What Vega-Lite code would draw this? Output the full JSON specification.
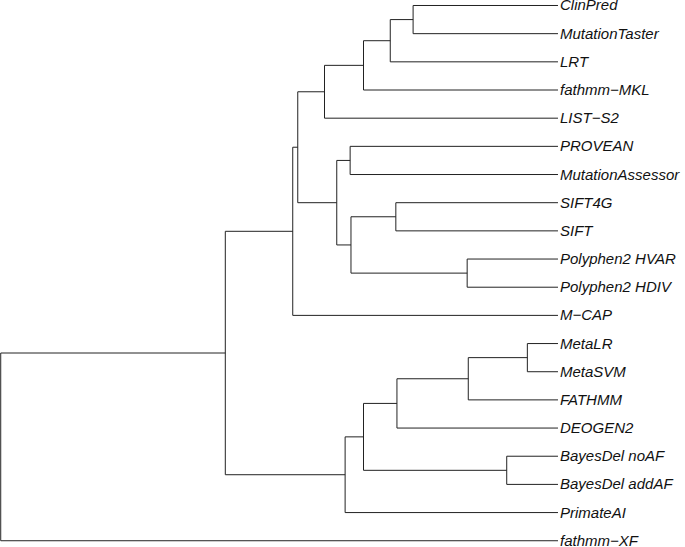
{
  "$schema": "https://vega.github.io/schema/vega-lite/v6.json",
  "width": 685,
  "height": 547,
  "autosize": "none",
  "padding": 0,
  "background": "white",
  "config": {"view": {"stroke": null}},
  "datasets": {
    "segments": [
      {"h": 0.260, "h2": 0.260, "y": 0, "y2": 1},
      {"h": 0.260, "h2": 0, "y": 0, "y2": 0},
      {"h": 0.260, "h2": 0, "y": 1, "y2": 1},
      {"h": 0.301, "h2": 0.301, "y": 0.5, "y2": 2},
      {"h": 0.301, "h2": 0.260, "y": 0.5, "y2": 0.5},
      {"h": 0.301, "h2": 0, "y": 2, "y2": 2},
      {"h": 0.349, "h2": 0.349, "y": 1.25, "y2": 3},
      {"h": 0.349, "h2": 0.301, "y": 1.25, "y2": 1.25},
      {"h": 0.349, "h2": 0, "y": 3, "y2": 3},
      {"h": 0.419, "h2": 0.419, "y": 2.125, "y2": 4},
      {"h": 0.419, "h2": 0.349, "y": 2.125, "y2": 2.125},
      {"h": 0.419, "h2": 0, "y": 4, "y2": 4},
      {"h": 0.373, "h2": 0.373, "y": 5, "y2": 6},
      {"h": 0.373, "h2": 0, "y": 5, "y2": 5},
      {"h": 0.373, "h2": 0, "y": 6, "y2": 6},
      {"h": 0.291, "h2": 0.291, "y": 7, "y2": 8},
      {"h": 0.291, "h2": 0, "y": 7, "y2": 7},
      {"h": 0.291, "h2": 0, "y": 8, "y2": 8},
      {"h": 0.163, "h2": 0.163, "y": 9, "y2": 10},
      {"h": 0.163, "h2": 0, "y": 9, "y2": 9},
      {"h": 0.163, "h2": 0, "y": 10, "y2": 10},
      {"h": 0.3715, "h2": 0.3715, "y": 7.5, "y2": 9.5},
      {"h": 0.3715, "h2": 0.291, "y": 7.5, "y2": 7.5},
      {"h": 0.3715, "h2": 0.163, "y": 9.5, "y2": 9.5},
      {"h": 0.397, "h2": 0.397, "y": 5.5, "y2": 8.5},
      {"h": 0.397, "h2": 0.373, "y": 5.5, "y2": 5.5},
      {"h": 0.397, "h2": 0.3715, "y": 8.5, "y2": 8.5},
      {"h": 0.467, "h2": 0.467, "y": 3.0625, "y2": 7},
      {"h": 0.467, "h2": 0.419, "y": 3.0625, "y2": 3.0625},
      {"h": 0.467, "h2": 0.397, "y": 7, "y2": 7},
      {"h": 0.476, "h2": 0.476, "y": 5.03125, "y2": 11},
      {"h": 0.476, "h2": 0.467, "y": 5.03125, "y2": 5.03125},
      {"h": 0.476, "h2": 0, "y": 11, "y2": 11},
      {"h": 0.055, "h2": 0.055, "y": 12, "y2": 13},
      {"h": 0.055, "h2": 0, "y": 12, "y2": 12},
      {"h": 0.055, "h2": 0, "y": 13, "y2": 13},
      {"h": 0.161, "h2": 0.161, "y": 12.5, "y2": 14},
      {"h": 0.161, "h2": 0.055, "y": 12.5, "y2": 12.5},
      {"h": 0.161, "h2": 0, "y": 14, "y2": 14},
      {"h": 0.289, "h2": 0.289, "y": 13.25, "y2": 15},
      {"h": 0.289, "h2": 0.161, "y": 13.25, "y2": 13.25},
      {"h": 0.289, "h2": 0, "y": 15, "y2": 15},
      {"h": 0.092, "h2": 0.092, "y": 16, "y2": 17},
      {"h": 0.092, "h2": 0, "y": 16, "y2": 16},
      {"h": 0.092, "h2": 0, "y": 17, "y2": 17},
      {"h": 0.349, "h2": 0.349, "y": 14.125, "y2": 16.5},
      {"h": 0.349, "h2": 0.289, "y": 14.125, "y2": 14.125},
      {"h": 0.349, "h2": 0.092, "y": 16.5, "y2": 16.5},
      {"h": 0.382, "h2": 0.382, "y": 15.3125, "y2": 18},
      {"h": 0.382, "h2": 0.349, "y": 15.3125, "y2": 15.3125},
      {"h": 0.382, "h2": 0, "y": 18, "y2": 18},
      {"h": 0.597, "h2": 0.597, "y": 8.015625, "y2": 16.65625},
      {"h": 0.597, "h2": 0.476, "y": 8.015625, "y2": 8.015625},
      {"h": 0.597, "h2": 0.382, "y": 16.65625, "y2": 16.65625},
      {"h": 1.0, "h2": 1.0, "y": 12.3359, "y2": 19},
      {"h": 1.0, "h2": 0.597, "y": 12.3359, "y2": 12.3359},
      {"h": 1.0, "h2": 0, "y": 19, "y2": 19}
    ],
    "leaves": [
      {"label": "ClinPred", "i": 0, "h": 0},
      {"label": "MutationTaster", "i": 1, "h": 0},
      {"label": "LRT", "i": 2, "h": 0},
      {"label": "fathmm−MKL", "i": 3, "h": 0},
      {"label": "LIST−S2", "i": 4, "h": 0},
      {"label": "PROVEAN", "i": 5, "h": 0},
      {"label": "MutationAssessor", "i": 6, "h": 0},
      {"label": "SIFT4G", "i": 7, "h": 0},
      {"label": "SIFT", "i": 8, "h": 0},
      {"label": "Polyphen2 HVAR", "i": 9, "h": 0},
      {"label": "Polyphen2 HDIV", "i": 10, "h": 0},
      {"label": "M−CAP", "i": 11, "h": 0},
      {"label": "MetaLR", "i": 12, "h": 0},
      {"label": "MetaSVM", "i": 13, "h": 0},
      {"label": "FATHMM", "i": 14, "h": 0},
      {"label": "DEOGEN2", "i": 15, "h": 0},
      {"label": "BayesDel noAF", "i": 16, "h": 0},
      {"label": "BayesDel addAF", "i": 17, "h": 0},
      {"label": "PrimateAI", "i": 18, "h": 0},
      {"label": "fathmm−XF", "i": 19, "h": 0}
    ]
  },
  "layer": [
    {
      "data": {"name": "segments"},
      "mark": {"type": "rule", "color": "#222222", "strokeWidth": 1},
      "encoding": {
        "x": {"field": "h", "type": "quantitative", "scale": {"domain": [-0.2279, 1.0013], "reverse": true, "nice": false, "zero": false}, "axis": null},
        "x2": {"field": "h2"},
        "y": {"field": "y", "type": "quantitative", "scale": {"domain": [-0.195, 19.222], "reverse": true, "nice": false, "zero": false}, "axis": null},
        "y2": {"field": "y2"}
      }
    },
    {
      "data": {"name": "leaves"},
      "mark": {"type": "text", "align": "left", "baseline": "middle", "dx": 2, "dy": 0, "font": "Liberation Sans", "fontStyle": "italic", "fontSize": 15, "color": "#111111"},
      "encoding": {
        "x": {"field": "h", "type": "quantitative"},
        "y": {"field": "i", "type": "quantitative"},
        "text": {"field": "label", "type": "nominal"}
      }
    }
  ]
}
